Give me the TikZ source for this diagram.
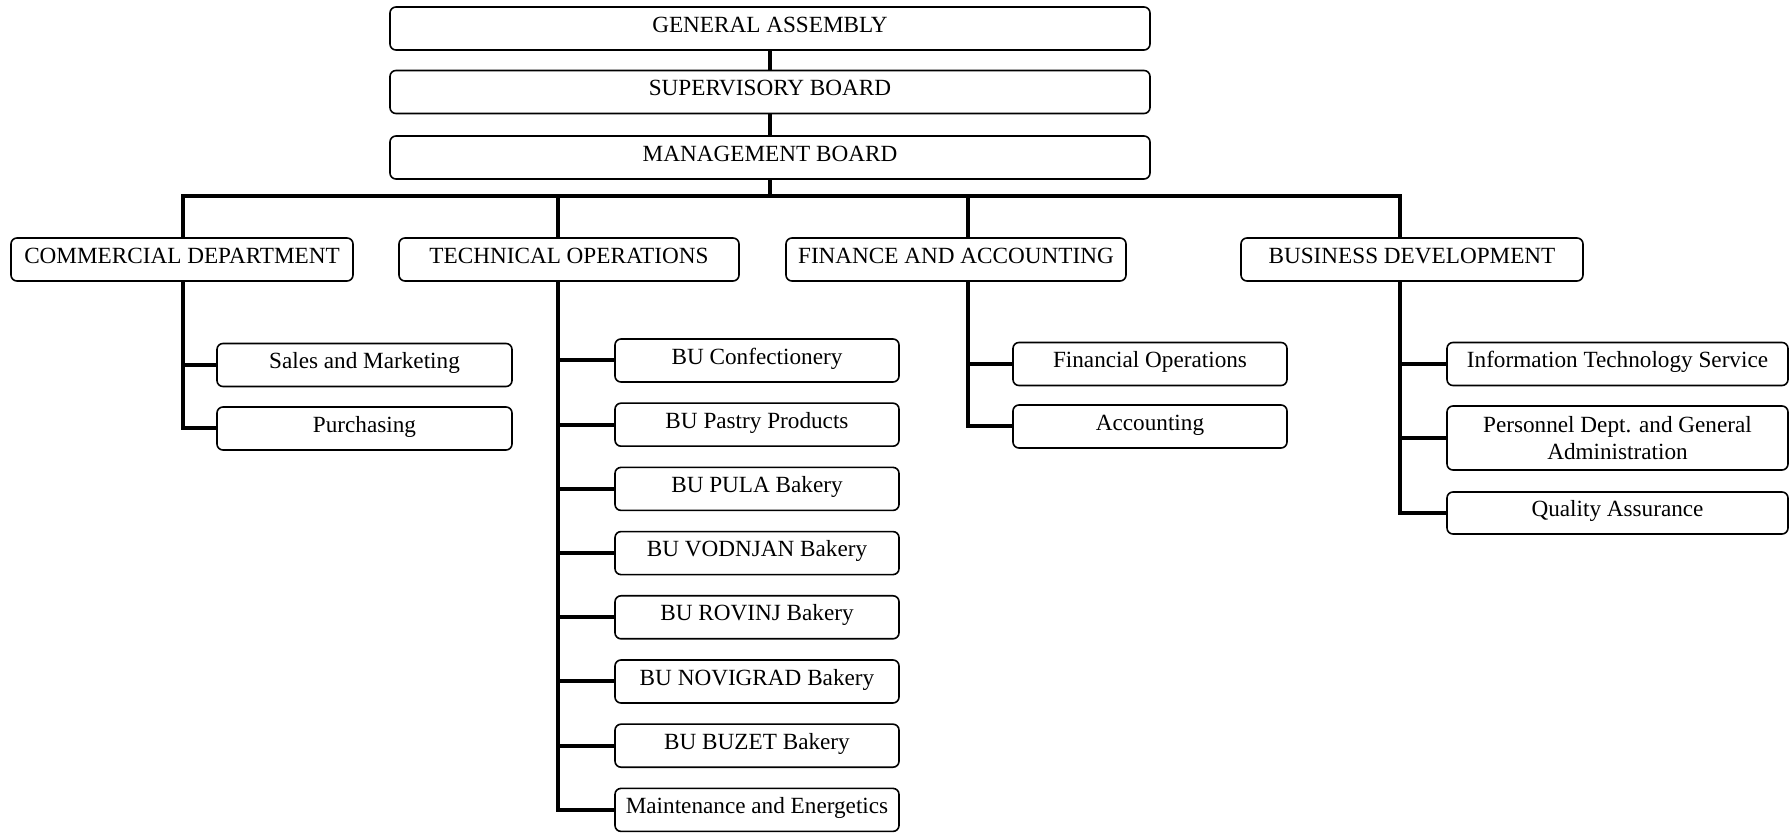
\documentclass[tikz,border=0pt]{standalone}
\usepackage{fontspec}
\setmainfont{Liberation Serif}
\begin{document}
\begin{tikzpicture}[x=0.5pt,y=-0.5pt,
  box/.style={draw, rounded corners=3pt, line width=0.8pt, inner sep=0pt, align=center,
    font=\fontsize{11.6}{13.1}\selectfont, minimum height=21.5pt},
  sl/.style={box, text height=8pt, text depth=4.3pt},
  top/.style={sl, minimum width=380pt},
  kidT/.style={sl, minimum width=142pt},
  conn/.style={line width=2pt}]
\useasboundingbox (0,0) rectangle (1789,833);
% top
\node[top] (ga) at (770,28.5) {GENERAL ASSEMBLY};
\node[top] (sb) at (770,92) {SUPERVISORY BOARD};
\node[top] (mb) at (770,157.5) {MANAGEMENT BOARD};
% departments
\node[sl, minimum width=171pt] (com) at (182,259.5) {COMMERCIAL DEPARTMENT};
\node[sl, minimum width=170pt] (tec) at (569,259.5) {TECHNICAL OPERATIONS};
\node[sl, minimum width=170pt] (fin) at (956,259.5) {FINANCE AND ACCOUNTING};
\node[sl, minimum width=171pt] (bd) at (1412,259.5) {BUSINESS DEVELOPMENT};
% commercial children
\node[sl, minimum width=147.5pt] (sal) at (364.5,365) {Sales and Marketing};
\node[sl, minimum width=147.5pt] (pur) at (364.5,428.5) {Purchasing};
% technical children
\node[kidT] (t1) at (757,360.5) {BU Confectionery};
\node[kidT] (t2) at (757,424.7) {BU Pastry Products};
\node[kidT] (t3) at (757,488.9) {BU PULA Bakery};
\node[kidT] (t4) at (757,553.1) {BU VODNJAN Bakery};
\node[kidT] (t5) at (757,617.3) {BU ROVINJ Bakery};
\node[kidT] (t6) at (757,681.5) {BU NOVIGRAD Bakery};
\node[kidT] (t7) at (757,745.7) {BU BUZET Bakery};
\node[kidT] (t8) at (757,809.9) {Maintenance and Energetics};
% finance children
\node[sl, minimum width=137pt] (fo) at (1150,364) {Financial Operations};
\node[sl, minimum width=137pt] (acc) at (1150,426.5) {Accounting};
% business children
\node[sl, minimum width=170.5pt] (it) at (1617.5,364) {Information Technology Service};
\node[box, minimum width=170.5pt, minimum height=32pt] (per) at (1617.5,438) {Personnel Dept. and General\\Administration};
\node[sl, minimum width=170.5pt, minimum height=21pt] (qa) at (1617.5,513) {Quality Assurance};
% bus coordinates
\coordinate (busL) at (183,196);
\coordinate (busM) at (770,196);
\coordinate (busT) at (558,196);
\coordinate (busF) at (968,196);
\coordinate (busR) at (1400,196);
% connectors
\draw[conn] (ga.south) -- (sb.north);
\draw[conn] (sb.south) -- (mb.north);
\draw[conn] (mb.south) -- (busM);
\draw[conn] (busL |- com.north) -- (busL) -- (busR) -- (busR |- bd.north);
\draw[conn] (busT) -- (busT |- tec.north);
\draw[conn] (busF) -- (busF |- fin.north);
% commercial
\draw[conn] (busL |- com.south) -- (busL |- pur.west) -- (pur.west);
\draw[conn] (sal.west) -- (sal.west -| busL);
% technical
\draw[conn] (busT |- tec.south) -- (busT |- t8.west) -- (t8.west);
\foreach \n in {t1,t2,t3,t4,t5,t6,t7}{\draw[conn] (\n.west) -- (\n.west -| busT);}
% finance
\draw[conn] (busF |- fin.south) -- (busF |- acc.west) -- (acc.west);
\draw[conn] (fo.west) -- (fo.west -| busF);
% business
\draw[conn] (busR |- bd.south) -- (busR |- qa.west) -- (qa.west);
\draw[conn] (it.west) -- (it.west -| busR);
\draw[conn] (per.west) -- (per.west -| busR);
\end{tikzpicture}
\end{document}
